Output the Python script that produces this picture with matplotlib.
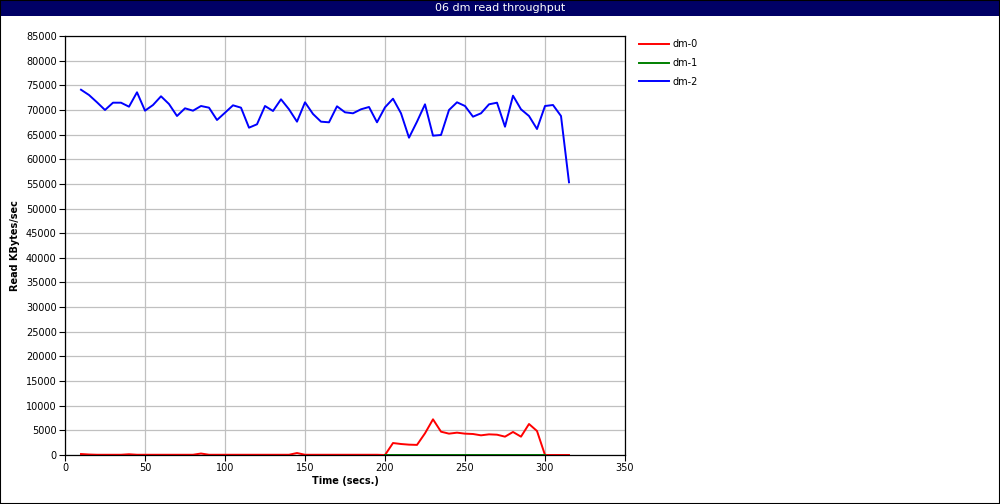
import matplotlib
matplotlib.use("Agg")
import matplotlib.pyplot as plt
from matplotlib.patches import Rectangle

title = "06 dm read throughput"

t_dm0 = list(range(10, 320, 5))
dm0 = [200, 100, 50, 50, 50, 50, 150, 50, 50, 50,
       50, 50, 50, 50, 50, 300, 50, 50, 50, 50,
       50, 50, 50, 50, 50, 50, 50, 400, 50, 50,
       50, 50, 50, 50, 50, 50, 50, 50, 0, 2430,
       2230, 2100, 2050, 4400, 7240, 4730, 4330, 4530, 4330, 4260,
       3990, 4190, 4120, 3720, 4670, 3720, 6290, 4870, 0, 0,
       0, 0]

t_dm1 = list(range(200, 305, 5))
dm1 = [0] * len(t_dm1)

t_dm2 = list(range(10, 320, 5))
dm2 = [74100, 73030, 71550, 69990, 71470, 71470, 70660, 73580, 69850, 71000,
       72770, 71200, 68770, 70330, 69850, 70800, 70460, 67960, 69440, 70940,
       70460, 66400, 67090, 70800, 69790, 72160, 70130, 67620, 71550, 69180,
       67620, 67490, 70740, 69520, 69320, 70130, 70600, 67490, 70530, 72280,
       69320, 64370, 67620, 71140, 64780, 64920, 69990, 71550, 70800, 68630,
       69320, 71140, 71470, 66600, 72890, 70130, 68770, 66130, 70800, 71000,
       68770, 55320]

x_ticks = list(range(0, 351, 50))
y_ticks = list(range(0, 85001, 5000))

plt.rcParams["font.family"] = "DejaVu Sans"
plt.rcParams["font.size"] = 7

W, H = 1000, 504
fig = plt.figure(figsize=(W / 100, H / 100), dpi=100)
ax = fig.add_axes([65 / W, 1 - 455 / H, 560 / W, 419 / H])

ax.plot(t_dm0, dm0, color="#ff0000", lw=1.4, label="dm-0")
ax.plot(t_dm1, dm1, color="#008000", lw=1.4, label="dm-1")
ax.plot(t_dm2, dm2, color="#0000ff", lw=1.4, label="dm-2")

ax.set_xlim(0, 350)
ax.set_ylim(0, 85000)
ax.set_xticks(x_ticks)
ax.set_yticks(y_ticks)
ax.grid(True, color="#c0c0c0", lw=0.9)
ax.set_axisbelow(True)
ax.tick_params(direction="out", length=4, width=0.8, pad=2)
for s in ax.spines.values():
    s.set_color("black")
    s.set_linewidth(0.9)

ax.set_xlabel("Time (secs.)", fontweight="bold", labelpad=2)
ax.set_ylabel("Read KBytes/sec", fontweight="bold", labelpad=4)

ax.legend(loc="upper left", bbox_to_anchor=(1.01, 1.013), frameon=False,
          handlelength=3.0, labelspacing=0.9, handletextpad=0.4)

# title banner and frame
fig.patches.append(Rectangle((0, 1 - 16 / H), 1, 16 / H, transform=fig.transFigure,
                             facecolor="#000066", edgecolor="none"))
fig.patches.append(Rectangle((0, 0), 1, 1, transform=fig.transFigure,
                             facecolor="none", edgecolor="black", lw=1.5))
fig.text(0.5, 1 - 8 / H, title, color="white", ha="center", va="center", fontsize=8)

fig.savefig("out.png", dpi=100)
